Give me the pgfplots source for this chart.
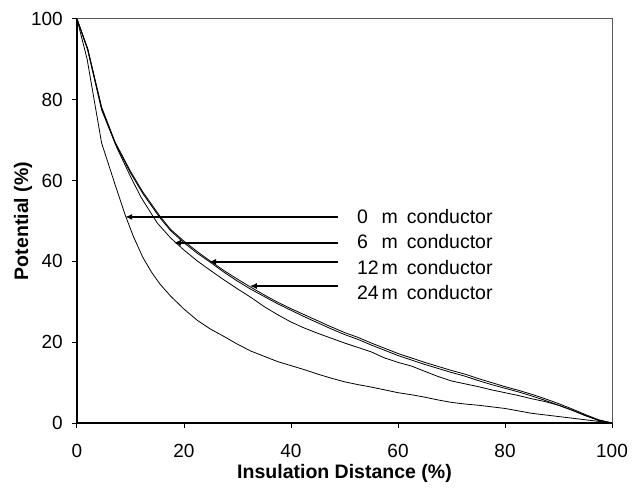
\documentclass[border=0pt]{standalone}
\usepackage{pgfplots}
\pgfplotsset{compat=1.18}
\usepackage{pgfplotstable}
\usepackage{fontspec}
\setmainfont{Liberation Sans}
\usetikzlibrary{arrows.meta}

\pgfplotstableread{
x y
0 100
1.9 90
4.6 69.3
7 59.5
9 51.5
10.5 46.3
12.3 41.0
14 37.2
15.5 34.4
17.5 31.4
20 28.2
22.5 25.4
25 23.2
27.5 21.4
30 19.5
32.5 17.8
35 16.5
37.5 15.2
40 14.2
42.5 13.2
45 12.1
47.5 11.1
50 10.2
52.5 9.5
55 8.9
57.5 8.2
60 7.5
62.5 7.0
65 6.4
67.5 5.7
70 5.1
72.5 4.7
75 4.4
77.5 4.0
80 3.6
82.5 3.0
85 2.4
87.5 2.0
90 1.6
92.5 1.2
95 0.8
97.5 0.4
100 0
}\curveA

\pgfplotstableread{
x y
0 100
2 92.3
4.6 77.5
7.5 68
10 61
12 55.8
15 49.5
17.5 45.8
20 42.8
22.5 40.1
25 37.7
27.5 35.4
30 33.2
32.5 31.1
35 28.8
37.5 26.8
40 25.0
42.5 23.5
45 22.2
47.5 21.0
50 19.8
52.5 18.7
55 17.6
57.5 16.1
60 15.0
62.5 14.1
65 12.8
67.5 11.5
70 10.4
72.5 9.7
75 9.0
77.5 8.2
80 7.5
82.5 6.8
85 6.0
87.5 5.3
90 4.4
92.5 3.2
95 1.9
97.5 0.6
100 0
}\curveB

\pgfplotstableread{
x y
0 100
2 92.5
4.6 77.9
7.1 69.3
10 61.9
12.3 56.8
15.5 50.8
17.5 47.6
20 44.6
22.5 42.0
25 39.7
27.5 37.3
30 35.1
32.5 33.1
35 31.3
37.5 29.5
40 27.9
42.5 26.3
45 24.8
47.5 23.3
50 21.9
52.5 20.7
55 19.3
57.5 18.0
60 16.7
62.5 15.6
65 14.5
67.5 13.5
70 12.5
72.5 11.6
75 10.5
77.5 9.5
80 8.6
82.5 7.7
85 6.7
87.5 5.6
90 4.4
92.5 3.2
95 1.8
97.5 0.7
100 0
}\curveC

\pgfplotstableread{
x y
0 100
2 92.7
4.6 78.2
7.1 69.6
10 62.3
12.3 57.2
15.5 51.2
17.5 47.9
20 45.0
22.5 42.4
25 40.0
27.5 37.7
30 35.6
32.5 33.6
35 31.7
37.5 29.9
40 28.3
42.5 26.8
45 25.3
47.5 23.8
50 22.4
52.5 21.2
55 19.8
57.5 18.5
60 17.2
62.5 16.1
65 15.0
67.5 14.0
70 13.0
72.5 12.1
75 11.0
77.5 10.0
80 9.0
82.5 8.1
85 7.1
87.5 6.0
90 4.8
92.5 3.5
95 2.1
97.5 0.8
100 0
}\curveD

\begin{document}
\begin{tikzpicture}
\path[use as bounding box] (-77pt,-64pt) rectangle (562pt,423pt);
\begin{axis}[
  at={(0,0)}, anchor=south west,
  scale only axis, width=535pt, height=404pt,
  xmin=0, xmax=100, ymin=0, ymax=100,
  xtick={0,20,...,100}, ytick={0,20,...,100},
  axis x line*=bottom, axis y line*=left,
  axis line style={-, black, line width=1.4pt},
  tick align=outside, major tick length=5pt,
  tick style={black, line width=1pt},
  /pgf/number format/assume math mode=true,
  ticklabel style={font=\fontsize{19}{22}\selectfont},
  xticklabel style={anchor=north, inner sep=0pt, yshift=-16pt},
  yticklabel style={anchor=east, inner sep=0pt, xshift=-9pt},
  xlabel={Insulation Distance (\%)},
  ylabel={Potential (\%)},
  label style={font=\fontsize{19.5}{22}\selectfont\bfseries},
  x label style={at={(axis description cs:0.5,-0.126)}, anchor=center},
  y label style={at={(axis description cs:-0.101,0.5)}, anchor=center},
  clip=false,
]
\addplot[black, line width=0.8pt] table[x=x,y=y] {\curveA};
\addplot[black, line width=0.8pt] table[x=x,y=y] {\curveB};
\addplot[black, line width=0.8pt] table[x=x,y=y] {\curveC};
\addplot[black, line width=0.8pt] table[x=x,y=y] {\curveD};
\draw[gray!70!black, line width=1pt] (axis cs:0,100) -- (axis cs:100,100) -- (axis cs:100,0);
\begin{scope}[line width=2.2pt, -{Latex[length=7pt,width=6pt]}]
\draw (axis cs:48.8,51.0) -- (axis cs:9.0,51.0);
\draw (axis cs:48.8,44.6) -- (axis cs:18.1,44.6);
\draw (axis cs:48.8,39.9) -- (axis cs:24.7,39.9);
\draw (axis cs:48.8,33.9) -- (axis cs:32.3,33.9);
\end{scope}
\begin{scope}[every node/.style={anchor=west, inner sep=0pt, font=\fontsize{19.5}{22}\selectfont}]
\node at (axis cs:52.3,51.2) {\rlap{0}\hphantom{12}\hspace{3pt}m\hspace{9pt}conductor};
\node at (axis cs:52.3,45.0) {\rlap{6}\hphantom{12}\hspace{3pt}m\hspace{9pt}conductor};
\node at (axis cs:52.3,38.4) {12\hspace{3pt}m\hspace{9pt}conductor};
\node at (axis cs:52.3,32.2) {24\hspace{3pt}m\hspace{9pt}conductor};
\end{scope}
\end{axis}
\end{tikzpicture}
\end{document}
